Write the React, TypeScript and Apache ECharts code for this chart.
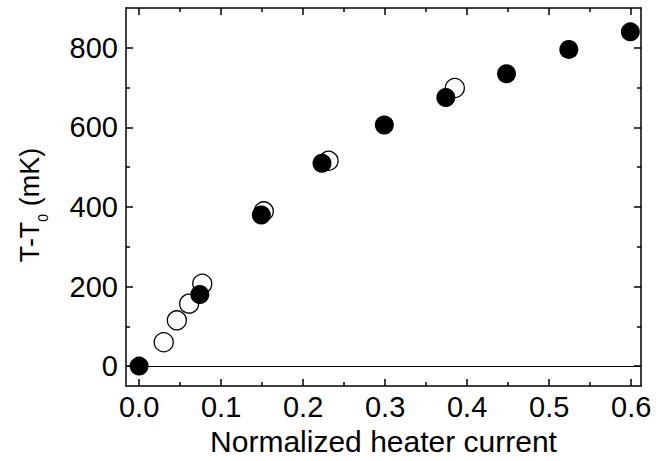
import React, { useEffect, useRef } from "react";
import * as echarts from "echarts";

// Data
const filledX = [0.0, 0.074, 0.149, 0.223, 0.299, 0.374, 0.448, 0.524, 0.599];
const filledY = [0, 180, 380, 510, 606, 675, 735, 796, 840];
const openX = [0.03, 0.046, 0.061, 0.077, 0.152, 0.231, 0.385];
const openY = [60, 115, 157, 207, 389, 516, 699];

const xMajorTicks = [0, 0.1, 0.2, 0.3, 0.4, 0.5, 0.6];
const xMinorTicks = [0.05, 0.15, 0.25, 0.35, 0.45, 0.55];
const yMajorTicks = [0, 200, 400, 600, 800];
const yMinorTicks = [100, 300, 500, 700];

const X_MIN = -0.016;
const X_MAX = 0.612;
const Y_MIN = -50;
const Y_MAX = 900;

const FONT = "'Liberation Sans', Arial, sans-serif";
const INK = "#000";

export default function App() {
  const ref = useRef<HTMLDivElement>(null);

  useEffect(() => {
    if (!ref.current) return;
    const chart = echarts.init(ref.current, undefined, { renderer: "svg" });

    const lineStyle = { color: INK, width: 1.5 };
    const mkX = (position: string, major: boolean, withLabel: boolean, extra: any = {}) => ({
      type: "value",
      position,
      min: X_MIN,
      max: X_MAX,
      axisLine: { show: major, onZero: false, lineStyle },
      axisTick: {
        show: true,
        inside: true,
        length: major ? 7 : 4,
        customValues: major ? xMajorTicks : xMinorTicks,
        lineStyle,
      },
      axisLabel: withLabel
        ? {
            show: true,
            customValues: xMajorTicks,
            formatter: (v: number) => v.toFixed(1),
            fontFamily: FONT,
            fontSize: 29,
            color: INK,
            margin: 6,
          }
        : { show: false },
      splitLine: { show: false },
      ...extra,
    });
    const mkY = (position: string, major: boolean, withLabel: boolean, extra: any = {}) => ({
      type: "value",
      position,
      min: Y_MIN,
      max: Y_MAX,
      axisLine: { show: major, onZero: false, lineStyle },
      axisTick: {
        show: true,
        inside: true,
        length: major ? 7 : 4,
        customValues: major ? yMajorTicks : yMinorTicks,
        lineStyle,
      },
      axisLabel: withLabel
        ? {
            show: true,
            customValues: yMajorTicks,
            formatter: (v: number) => String(v),
            fontFamily: FONT,
            fontSize: 29,
            color: INK,
            margin: 8,
          }
        : { show: false },
      splitLine: { show: false },
      ...extra,
    });

    const option: any = {
      animation: false,
      backgroundColor: "#fff",
      grid: { left: 126, right: 15, top: 8, bottom: 75, containLabel: false },
      xAxis: [
        mkX("bottom", true, true, {
          name: "Normalized heater current",
          nameLocation: "middle",
          nameGap: 40,
          nameTextStyle: { fontFamily: FONT, fontSize: 30, color: INK },
        }),
        mkX("bottom", false, false),
        mkX("top", true, false),
        mkX("top", false, false),
      ],
      yAxis: [
        mkY("left", true, true, {
          name: "T-T{s|0} (mK)",
          nameLocation: "middle",
          nameGap: 76,
          nameRotate: 90,
          nameTextStyle: {
            fontFamily: FONT,
            fontSize: 27,
            color: INK,
            lineHeight: 40,
            padding: [0, 16, 0, 0],
            rich: {
              s: { fontFamily: FONT, fontSize: 14, color: INK, verticalAlign: "bottom", lineHeight: 14 },
            },
          },
        }),
        mkY("left", false, false),
        mkY("right", true, false),
        mkY("right", false, false),
      ],
      series: [
        {
          type: "scatter",
          xAxisIndex: 0,
          yAxisIndex: 0,
          symbol: "circle",
          symbolSize: 19,
          itemStyle: { color: "#fff", borderColor: INK, borderWidth: 1.3, opacity: 1 },
          data: openX.map((x, i) => [x, openY[i]]),
          z: 2,
          markLine: {
            silent: true,
            symbol: "none",
            label: { show: false },
            lineStyle: { color: INK, width: 1, type: "solid", opacity: 1 },
            data: [{ yAxis: 0 }],
          },
        },
        {
          type: "scatter",
          xAxisIndex: 0,
          yAxisIndex: 0,
          symbol: "circle",
          symbolSize: 19,
          itemStyle: { color: INK, borderColor: INK, borderWidth: 0, opacity: 1 },
          data: filledX.map((x, i) => [x, filledY[i]]),
          z: 3,
        },
      ],
    };

    chart.setOption(option);
    return () => chart.dispose();
  }, []);

  return (
    <div
      ref={ref}
      style={{ width: 656, height: 461, position: "absolute", left: 0, top: 0, background: "#fff" }}
    />
  );
}
